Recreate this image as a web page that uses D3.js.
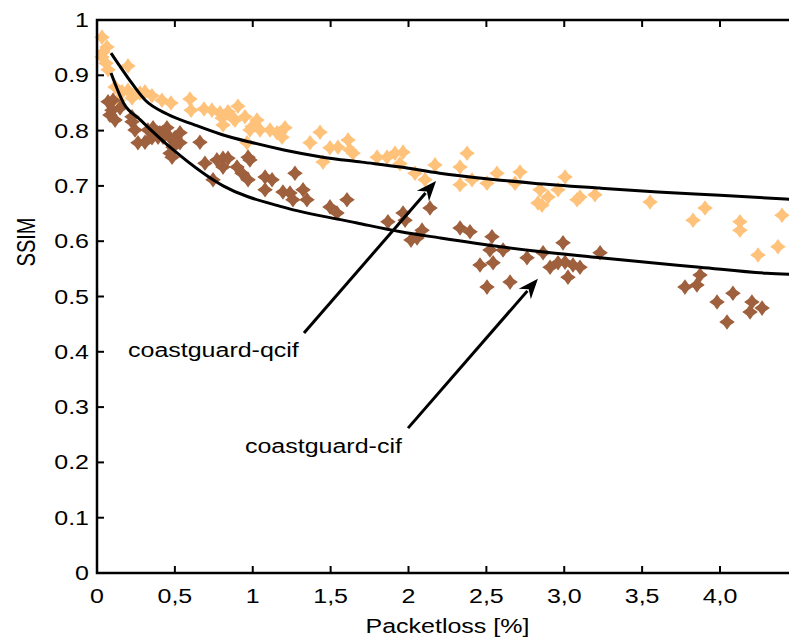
<!DOCTYPE html>
<html>
<head>
<meta charset="utf-8">
<script src="https://cdn.jsdelivr.net/npm/d3@7"></script>
<style>
  html, body { margin: 0; padding: 0; background: #fff; }
  svg { display: block; }
  text { font-family: "Liberation Sans", Arial, sans-serif; fill: #000; }
</style>
</head>
<body>
<div id="chart"></div>
<script>
// data: [packet loss %, SSIM]
const qcifPoints = [
  [0.032, 0.969], [0.064, 0.951], [0.039, 0.942], [0.032, 0.933], [0.058, 0.922], [0.071, 0.910],
  [0.199, 0.917], [0.116, 0.879], [0.161, 0.870], [0.199, 0.873], [0.135, 0.855], [0.225, 0.859],
  [0.276, 0.868], [0.308, 0.870], [0.353, 0.863], [0.417, 0.855], [0.475, 0.850], [0.597, 0.857],
  [0.604, 0.837], [0.687, 0.839], [0.738, 0.837], [0.790, 0.832], [0.841, 0.834], [0.905, 0.844],
  [0.803, 0.823], [0.873, 0.823], [0.809, 0.810], [0.886, 0.819], [0.950, 0.825], [0.995, 0.807],
  [1.027, 0.819], [1.047, 0.801], [0.982, 0.801], [1.111, 0.801], [1.207, 0.805], [1.156, 0.796],
  [1.188, 0.788], [0.963, 0.778], [1.368, 0.778], [1.432, 0.797], [1.451, 0.743], [1.496, 0.769],
  [1.547, 0.770], [1.612, 0.783], [1.624, 0.765], [1.644, 0.759], [1.798, 0.752], [1.862, 0.752],
  [1.913, 0.759], [1.965, 0.761], [1.945, 0.740], [2.042, 0.723], [2.106, 0.711], [2.170, 0.738],
  [2.376, 0.759], [2.331, 0.734], [2.331, 0.702], [2.408, 0.711], [2.504, 0.705], [2.568, 0.723],
  [2.684, 0.705], [2.716, 0.725], [2.844, 0.693], [2.857, 0.665], [2.896, 0.680], [2.831, 0.669],
  [2.960, 0.693], [3.005, 0.716], [3.082, 0.675], [3.101, 0.680], [3.197, 0.684], [3.551, 0.671],
  [3.904, 0.660], [3.827, 0.638], [4.128, 0.635], [4.128, 0.620], [4.398, 0.647], [4.372, 0.590],
  [4.244, 0.575]
];

const cifPoints = [
  [0.071, 0.852], [0.103, 0.855], [0.083, 0.828], [0.116, 0.819], [0.148, 0.841], [0.096, 0.837],
  [0.225, 0.816], [0.225, 0.825], [0.244, 0.801], [0.263, 0.778], [0.308, 0.779], [0.327, 0.801],
  [0.360, 0.805], [0.392, 0.788], [0.404, 0.796], [0.353, 0.787], [0.424, 0.797], [0.449, 0.805],
  [0.424, 0.788], [0.469, 0.787], [0.501, 0.787], [0.488, 0.770], [0.533, 0.796], [0.533, 0.778],
  [0.469, 0.759], [0.482, 0.752], [0.661, 0.779], [0.693, 0.741], [0.770, 0.747], [0.809, 0.750],
  [0.809, 0.734], [0.841, 0.750], [0.899, 0.734], [0.931, 0.723], [0.970, 0.752], [0.982, 0.747],
  [0.970, 0.711], [0.745, 0.711], [1.079, 0.716], [1.124, 0.711], [1.079, 0.693], [1.271, 0.723],
  [1.194, 0.689], [1.239, 0.687], [1.323, 0.693], [1.348, 0.675], [1.258, 0.675], [1.496, 0.662],
  [1.541, 0.651], [1.605, 0.675], [1.868, 0.635], [1.965, 0.651], [2.016, 0.602], [2.055, 0.606],
  [2.087, 0.620], [2.138, 0.660], [1.978, 0.638], [2.331, 0.624], [2.395, 0.617], [2.536, 0.608],
  [2.523, 0.584], [2.607, 0.584], [2.459, 0.557], [2.543, 0.561], [2.652, 0.526], [2.504, 0.517],
  [2.761, 0.570], [2.864, 0.579], [2.992, 0.597], [2.909, 0.553], [2.960, 0.561], [3.005, 0.562],
  [3.024, 0.535], [3.056, 0.557], [3.101, 0.553], [3.230, 0.579], [3.872, 0.539], [3.852, 0.521],
  [3.775, 0.517], [3.981, 0.490], [4.083, 0.506], [4.205, 0.490], [4.193, 0.472], [4.270, 0.479],
  [4.045, 0.454]
];

// fitted curves
const qcifFit = [
  [0.09, 0.940], [0.20, 0.895], [0.31, 0.855], [0.45, 0.830], [0.63, 0.810], [0.80, 0.793],
  [1.00, 0.778], [1.20, 0.765], [1.45, 0.752], [1.70, 0.743], [1.95, 0.734], [2.20, 0.723],
  [2.50, 0.713], [2.80, 0.705], [3.23, 0.696], [3.60, 0.689], [4.00, 0.683], [4.50, 0.675]
];
const cifFit = [
  [0.09, 0.904], [0.17, 0.850], [0.28, 0.819], [0.49, 0.765], [0.81, 0.700], [1.19, 0.662],
  [1.67, 0.633], [1.95, 0.617], [2.20, 0.606], [2.59, 0.590], [3.23, 0.570], [3.87, 0.553],
  [4.30, 0.542], [4.50, 0.540]
];

const xTicks = [0, 0.5, 1, 1.5, 2, 2.5, 3, 3.5, 4];
const xTickLabels = ['0', '0,5', '1', '1,5', '2', '2,5', '3,0', '3,5', '4,0'];
const yTicks = [0, 0.1, 0.2, 0.3, 0.4, 0.5, 0.6, 0.7, 0.8, 0.9, 1];
const yTickLabels = ['0', '0.1', '0.2', '0.3', '0.4', '0.5', '0.6', '0.7', '0.8', '0.9', '1'];

// annotations: label position and arrow [from, to]
const annotations = [
  { text: 'coastguard-qcif', at: [0.199, 0.391], from: [1.329, 0.434], to: [2.177, 0.709] },
  { text: 'coastguard-cif', at: [0.950, 0.217], from: [1.997, 0.262], to: [2.831, 0.532] }
];

const W = 789, H = 640;
const mLeft = 97, mTop = 20, mBottom = 573;
const FS = 20, SX = 1.25; // text in the figure is stretched horizontally

const x = d3.scaleLinear().domain([0, 4.5]).range([mLeft, mLeft + 4.5 * 155.75]);
const y = d3.scaleLinear().domain([0, 1]).range([mBottom, mTop]);

const svg = d3.select('#chart').append('svg')
  .attr('width', W)
  .attr('height', H);

function label(g, px, py, str, anchor, extra) {
  return g.append('text')
    .attr('transform', `translate(${px},${py}) scale(${SX},1)` + (extra || ''))
    .attr('text-anchor', anchor)
    .style('font-size', FS + 'px')
    .text(str);
}

// marker: chunky 4-point star (diamond with a plus)
const star = (() => {
  const R = 7.8, r = 4.6, pts = [];
  for (let i = 0; i < 8; i++) {
    const a = i * Math.PI / 4 - Math.PI / 2;
    const rad = i % 2 === 0 ? R : r;
    pts.push([rad * Math.cos(a), rad * Math.sin(a)]);
  }
  return 'M' + pts.map(p => p.join(',')).join('L') + 'Z';
})();

const plot = svg.append('g');

plot.selectAll('.qcif')
  .data(qcifPoints)
  .enter().append('path')
  .attr('class', 'qcif')
  .attr('d', star)
  .attr('transform', d => `translate(${x(d[0])},${y(d[1])})`)
  .attr('fill', '#ffc27a');

plot.selectAll('.cif')
  .data(cifPoints)
  .enter().append('path')
  .attr('class', 'cif')
  .attr('d', star)
  .attr('transform', d => `translate(${x(d[0])},${y(d[1])})`)
  .attr('fill', '#9e603d');

const line = d3.line()
  .x(d => x(d[0]))
  .y(d => y(d[1]))
  .curve(d3.curveMonotoneX);

[qcifFit, cifFit].forEach(pts => {
  plot.append('path')
    .datum(pts)
    .attr('d', line)
    .attr('fill', 'none')
    .attr('stroke', '#000')
    .attr('stroke-width', 3);
});

// arrows + labels
annotations.forEach(a => {
  const x1 = x(a.from[0]), y1 = y(a.from[1]);
  const x2 = x(a.to[0]), y2 = y(a.to[1]);
  const ang = Math.atan2(y2 - y1, x2 - x1);
  const hl = 20, hw = 8;
  const bx = x2 - hl * Math.cos(ang), by = y2 - hl * Math.sin(ang);
  svg.append('line')
    .attr('x1', x1).attr('y1', y1)
    .attr('x2', bx + 4 * Math.cos(ang)).attr('y2', by + 4 * Math.sin(ang))
    .attr('stroke', '#000')
    .attr('stroke-width', 3);
  const head = [
    [x2, y2],
    [bx + hw * Math.sin(ang), by - hw * Math.cos(ang)],
    [x2 - 0.7 * hl * Math.cos(ang), y2 - 0.7 * hl * Math.sin(ang)],
    [bx - hw * Math.sin(ang), by + hw * Math.cos(ang)]
  ];
  svg.append('path')
    .attr('d', 'M' + head.map(p => p.join(',')).join('L') + 'Z')
    .attr('fill', '#000');
  label(svg, x(a.at[0]), y(a.at[1]), a.text, 'start');
});

// frame
const frame = svg.append('g')
  .attr('stroke', '#000')
  .attr('fill', 'none');

frame.append('path')
  .attr('d', `M${x(4.5)},${mTop}H${mLeft}V${mBottom}H${x(4.5)}`)
  .attr('stroke-width', 2.5);

xTicks.forEach(t => {
  frame.append('line')
    .attr('x1', x(t)).attr('x2', x(t))
    .attr('y1', mBottom).attr('y2', mBottom - 7)
    .attr('stroke-width', 2);
  frame.append('line')
    .attr('x1', x(t)).attr('x2', x(t))
    .attr('y1', mTop).attr('y2', mTop + 7)
    .attr('stroke-width', 2);
});
yTicks.forEach(t => {
  frame.append('line')
    .attr('x1', mLeft).attr('x2', mLeft + 7)
    .attr('y1', y(t)).attr('y2', y(t))
    .attr('stroke-width', 2);
});

// tick labels
xTicks.forEach((t, i) => label(svg, x(t), 603, xTickLabels[i], 'middle'));
yTicks.forEach((t, i) => label(svg, 89, y(t) + 7, yTickLabels[i], 'end'));

// axis titles
label(svg, (x(0) + x(4.5)) / 2, 633, 'Packetloss [%]', 'middle');
label(svg, 35, 242, 'SSIM', 'middle', ' rotate(-90)');
</script>
</body>
</html>
